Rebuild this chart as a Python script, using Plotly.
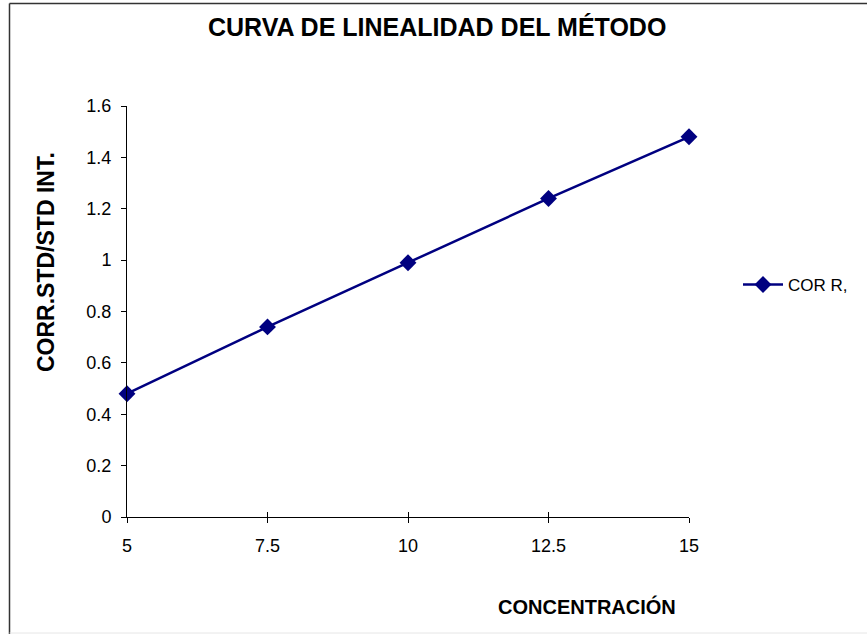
import plotly.graph_objects as go

# Linearity curve data
concentracion = [5, 7.5, 10, 12.5, 15]
corr_ratio = [0.48, 0.74, 0.99, 1.24, 1.48]
x_ticks = [5, 7.5, 10, 12.5, 15]
y_ticks = [0, 0.2, 0.4, 0.6, 0.8, 1, 1.2, 1.4, 1.6]

W, H = 867, 634
ML, MR, MT, MB = 127, 178, 106, 117
PW, PH = W - ML - MR, H - MT - MB


def px_x(px):
    return (px - ML) / PW


def px_y(py):
    return (H - MB - py) / PH


navy = "#000080"
font = "Arial, Liberation Sans, sans-serif"

fig = go.Figure()
fig.add_trace(go.Scatter(
    x=concentracion, y=corr_ratio, name="COR R,",
    mode="lines+markers",
    line=dict(color=navy, width=2.5),
    marker=dict(symbol="diamond", size=13, color=navy),
    cliponaxis=False,
))
# second axis only used to draw the upper half of the crossing ticks
fig.add_trace(go.Scatter(x=[None], y=[None], xaxis="x2", showlegend=False))

fig.update_layout(
    width=W, height=H,
    margin=dict(l=ML, r=MR, t=MT, b=MB),
    paper_bgcolor="white", plot_bgcolor="white",
    font=dict(family=font, size=18, color="black"),
    showlegend=True,
    legend=dict(x=px_x(738), y=px_y(285), xanchor="left", yanchor="middle",
                font=dict(size=17), bgcolor="rgba(0,0,0,0)", itemwidth=40),
    xaxis=dict(range=[5, 15], tickvals=x_ticks, ticktext=[str(v) for v in x_ticks],
               showgrid=False, zeroline=False, showline=True, linecolor="black", linewidth=1,
               ticks="outside", ticklen=5, tickcolor="black", tickfont=dict(size=18),
               ticklabelstandoff=7),
    xaxis2=dict(range=[5, 15], overlaying="x", side="bottom", tickvals=x_ticks,
                showticklabels=False, showgrid=False, zeroline=False, showline=False,
                ticks="inside", ticklen=5, tickcolor="black"),
    yaxis=dict(range=[0, 1.6], tickvals=y_ticks, showgrid=False, zeroline=False,
               showline=True, linecolor="black", linewidth=1,
               ticks="outside", ticklen=5, tickcolor="black", tickfont=dict(size=18),
               ticklabelstandoff=6),
)

fig.add_annotation(text="<b>CURVA DE LINEALIDAD DEL MÉTODO</b>", xref="paper", yref="paper",
                   x=px_x(437), y=px_y(27), xanchor="center", yanchor="middle",
                   showarrow=False, font=dict(size=25, family=font, color="black"))
fig.add_annotation(text="<b>CORR.STD/STD INT.</b>", xref="paper", yref="paper",
                   x=px_x(46), y=px_y(262), xanchor="center", yanchor="middle",
                   textangle=-90, showarrow=False,
                   font=dict(size=23, family=font, color="black"))
fig.add_annotation(text="<b>CONCENTRACIÓN</b>", xref="paper", yref="paper",
                   x=px_x(587), y=px_y(606), xanchor="center", yanchor="middle",
                   showarrow=False, font=dict(size=20, family=font, color="black"))

# chart frame
fig.add_shape(type="line", xref="paper", yref="paper",
              x0=px_x(9.5), x1=px_x(880), y0=px_y(3.5), y1=px_y(3.5),
              line=dict(color="#333333", width=1.5))
fig.add_shape(type="line", xref="paper", yref="paper",
              x0=px_x(9.5), x1=px_x(9.5), y0=px_y(3.5), y1=px_y(640),
              line=dict(color="#333333", width=1.5))
fig.add_shape(type="line", xref="paper", yref="paper",
              x0=px_x(9.5), x1=px_x(880), y0=px_y(633), y1=px_y(633),
              line=dict(color="#e6e6e6", width=1))

fig.write_html("out.html")
